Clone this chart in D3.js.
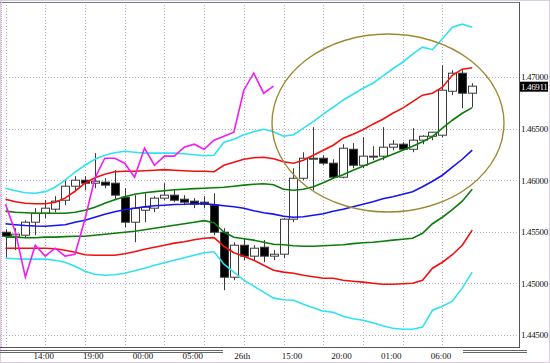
<!DOCTYPE html>
<html lang="en">
<head>
    <meta charset="UTF-8">
    <script src="https://d3js.org/d3.v7.min.js"></script>
    <style>
        body { margin: 0; background: #ffffff; overflow: hidden; }
        svg { display: block; }
        .tick text { font-family: 'Liberation Serif', 'DejaVu Serif', serif; font-size: 9px; fill: #111; }
        .yaxis .tick text { letter-spacing: -0.35px; }
    </style>
</head>
<body>
    <svg id="chart" width="550" height="363"></svg>

    <script>
        // hourly candles, EUR-ish quote
        const opens  = [1.45496,1.45457,1.45467,1.45593,1.45680,1.45719,1.45806,1.45942,1.46000,1.45971,
                        1.45981,1.45971,1.45835,1.45593,1.45709,1.45729,1.45826,1.45855,1.45816,1.45797,
                        1.45787,1.45758,1.45496,1.45060,1.45370,1.45264,1.45351,1.45264,1.45283,1.45622,
                        1.46019,1.46203,1.46213,1.46165,1.46029,1.46300,1.46145,1.46233,1.46233,1.46320,
                        1.46349,1.46300,1.46388,1.46426,1.46436,1.46862,1.47037,1.46843];
        const highs  = [1.45525,1.45535,1.45612,1.45729,1.45806,1.45845,1.46000,1.46039,1.46039,1.46262,
                        1.46019,1.46097,1.45922,1.45855,1.45874,1.45845,1.45971,1.45903,1.45855,1.45826,
                        1.45845,1.45874,1.45535,1.45399,1.45438,1.45370,1.45419,1.45322,1.45632,1.46116,
                        1.46271,1.46514,1.46242,1.46203,1.46349,1.46359,1.46417,1.46329,1.46514,1.46388,
                        1.46368,1.46504,1.46436,1.46465,1.47114,1.47066,1.47066,1.46940];
        const lows   = [1.45254,1.45322,1.45438,1.45467,1.45632,1.45690,1.45758,1.45903,1.45903,1.45922,
                        1.45922,1.45806,1.45545,1.45399,1.45593,1.45690,1.45806,1.45787,1.45758,1.45729,
                        1.45729,1.45467,1.44934,1.45031,1.45225,1.45225,1.45205,1.45225,1.45244,1.45593,
                        1.46000,1.45903,1.46145,1.46019,1.46019,1.46116,1.46116,1.46194,1.46194,1.46291,
                        1.46291,1.46271,1.46349,1.46388,1.46417,1.46824,1.46698,1.46707];
        const closes = [1.45457,1.45477,1.45593,1.45680,1.45729,1.45797,1.45942,1.46000,1.45971,1.45990,
                        1.45952,1.45855,1.45593,1.45729,1.45738,1.45826,1.45855,1.45806,1.45787,1.45767,
                        1.45767,1.45496,1.45060,1.45370,1.45264,1.45341,1.45264,1.45283,1.45622,1.46019,
                        1.46213,1.46213,1.46165,1.46029,1.46310,1.46145,1.46233,1.46233,1.46320,1.46349,
                        1.46300,1.46388,1.46426,1.46465,1.46872,1.47037,1.46843,1.46911];

        // bollinger bands (middle, +-1, +-2, +-3 sigma)
        const bandMid = [1.45578,1.45569,1.45561,1.45556,1.45554,1.45561,1.45569,1.45593,1.45612,1.45641,
                         1.45671,1.45695,1.45714,1.45729,1.45743,1.45753,1.45758,1.45765,1.45767,1.45772,
                         1.45772,1.45763,1.45753,1.45743,1.45729,1.45704,1.45685,1.45671,1.45651,1.45641,
                         1.45646,1.45661,1.45675,1.45700,1.45719,1.45743,1.45767,1.45792,1.45821,1.45840,
                         1.45864,1.45889,1.45937,1.45990,1.46048,1.46126,1.46203,1.46291];
        const bandUp1 = [1.45700,1.45690,1.45685,1.45680,1.45680,1.45680,1.45680,1.45690,1.45709,1.45738,
                         1.45777,1.45811,1.45840,1.45864,1.45879,1.45889,1.45898,1.45908,1.45913,1.45918,
                         1.45922,1.45927,1.45932,1.45942,1.45952,1.45961,1.45966,1.45956,1.45913,1.45903,
                         1.45913,1.45937,1.45976,1.46019,1.46053,1.46097,1.46136,1.46174,1.46213,1.46252,
                         1.46291,1.46329,1.46373,1.46422,1.46504,1.46581,1.46649,1.46703];
        const bandDn1 = [1.45448,1.45448,1.45443,1.45443,1.45448,1.45448,1.45453,1.45457,1.45457,1.45467,
                         1.45477,1.45486,1.45496,1.45506,1.45520,1.45535,1.45549,1.45564,1.45578,1.45593,
                         1.45608,1.45588,1.45496,1.45448,1.45433,1.45419,1.45399,1.45380,1.45375,1.45365,
                         1.45360,1.45360,1.45365,1.45370,1.45375,1.45385,1.45394,1.45399,1.45409,1.45419,
                         1.45428,1.45438,1.45486,1.45578,1.45641,1.45714,1.45797,1.45913];
        const bandUp2 = [1.45816,1.45792,1.45777,1.45772,1.45772,1.45787,1.45826,1.45893,1.45971,1.46024,
                         1.46058,1.46082,1.46087,1.46087,1.46092,1.46097,1.46102,1.46097,1.46092,1.46087,
                         1.46087,1.46082,1.46145,1.46174,1.46203,1.46218,1.46223,1.46208,1.46179,1.46165,
                         1.46194,1.46242,1.46291,1.46339,1.46407,1.46446,1.46489,1.46543,1.46591,1.46649,
                         1.46698,1.46761,1.46824,1.46843,1.46901,1.47017,1.47076,1.47090];
        const bandDn2 = [1.45341,1.45341,1.45341,1.45341,1.45341,1.45336,1.45322,1.45302,1.45278,1.45273,
                         1.45273,1.45273,1.45288,1.45307,1.45331,1.45351,1.45370,1.45390,1.45404,1.45423,
                         1.45438,1.45443,1.45360,1.45297,1.45264,1.45225,1.45176,1.45128,1.45109,1.45099,
                         1.45079,1.45065,1.45050,1.45050,1.45031,1.45021,1.45012,1.45002,1.44992,1.44992,
                         1.44997,1.45002,1.45031,1.45147,1.45205,1.45278,1.45370,1.45516];
        const bandUp3 = [1.45922,1.45898,1.45879,1.45874,1.45889,1.45932,1.46000,1.46078,1.46145,1.46203,
                         1.46242,1.46266,1.46281,1.46271,1.46262,1.46262,1.46262,1.46262,1.46257,1.46247,
                         1.46237,1.46242,1.46368,1.46397,1.46441,1.46470,1.46494,1.46470,1.46426,1.46441,
                         1.46504,1.46567,1.46640,1.46707,1.46775,1.46833,1.46891,1.46940,1.47008,1.47080,
                         1.47143,1.47221,1.47289,1.47265,1.47371,1.47483,1.47512,1.47483];
        const bandDn3 = [1.45244,1.45239,1.45235,1.45235,1.45235,1.45225,1.45205,1.45167,1.45118,1.45089,
                         1.45079,1.45084,1.45099,1.45123,1.45147,1.45176,1.45201,1.45225,1.45249,1.45273,
                         1.45297,1.45307,1.45186,1.45109,1.45031,1.44973,1.44915,1.44857,1.44842,1.44837,
                         1.44798,1.44765,1.44731,1.44721,1.44682,1.44658,1.44643,1.44619,1.44590,1.44566,
                         1.44556,1.44556,1.44576,1.44740,1.44779,1.44828,1.44954,1.45109];

        // lagging span (magenta), starts at the first bar
        const lagSpan = [1.45767,1.45496,1.45060,1.45370,1.45264,1.45341,1.45264,1.45283,1.45622,1.46019,
                         1.46213,1.46213,1.46165,1.46029,1.46310,1.46145,1.46233,1.46233,1.46320,1.46349,
                         1.46300,1.46388,1.46426,1.46465,1.46872,1.47037,1.46843,1.46911];

        const priceTicks = [1.445, 1.450, 1.455, 1.460, 1.465, 1.470];
        const timeTickBars = [4, 9, 14, 19, 24, 29, 34, 39, 44];
        const timeLabels = ["14:00", "19:00", "00:00", "05:00", "26th", "15:00", "20:00", "01:00", "06:00"];
        const gridBars = [0, 4, 8, 12, 16, 20, 24, 28, 32, 36, 40, 44];
        const lastPrice = 1.46911;

        const svg = d3.select("#chart");
        const plotRight = 519, plotTop = 2, plotBottom = 347;

        const x = d3.scaleLinear().domain([0, 47]).range([5.5, 472.2]);
        const y = d3.scaleLinear().domain([1.445, 1.470]).range([335, 77]);

        // outer frame
        svg.append("rect").attr("x", 0.5).attr("y", 0.5).attr("width", 549).attr("height", 362)
            .attr("fill", "#fff").attr("stroke", "#d9cde2");

        svg.append("defs").append("clipPath").attr("id", "plotclip")
            .append("rect").attr("x", 0).attr("y", plotTop).attr("width", plotRight).attr("height", plotBottom - plotTop);

        // grid
        const grid = svg.append("g").attr("stroke", "#b9aec4").attr("stroke-dasharray", "1,2");
        grid.selectAll(".hg").data(priceTicks).enter().append("line")
            .attr("x1", 0).attr("x2", plotRight)
            .attr("y1", d => Math.round(y(d)) + 0.5).attr("y2", d => Math.round(y(d)) + 0.5);
        grid.selectAll(".vg").data(gridBars).enter().append("line")
            .attr("x1", d => Math.round(x(d)) + 0.5).attr("x2", d => Math.round(x(d)) + 0.5)
            .attr("y1", plotTop).attr("y2", plotBottom);

        const plot = svg.append("g").attr("clip-path", "url(#plotclip)");

        // candles
        const bars = d3.range(opens.length);
        plot.selectAll(".wick").data(bars).enter().append("line")
            .attr("x1", i => Math.round(x(i)) + 0.5).attr("x2", i => Math.round(x(i)) + 0.5)
            .attr("y1", i => y(highs[i])).attr("y2", i => y(lows[i]))
            .attr("stroke", "#3a3a3a").attr("stroke-width", 1);
        plot.selectAll(".body").data(bars).enter().append("rect")
            .attr("x", i => Math.round(x(i)) - 4 + 0.5)
            .attr("y", i => y(Math.max(opens[i], closes[i])))
            .attr("width", 8)
            .attr("height", i => Math.max(1, Math.abs(y(opens[i]) - y(closes[i]))))
            .attr("fill", i => closes[i] < opens[i] ? "#000" : "#fff")
            .attr("stroke", "#3a3a3a").attr("stroke-width", 1);

        // bands
        const line = d3.line().x((d, i) => x(i)).y(d => y(d));
        const bands = [
            [bandDn3, "#2fe2f0"], [bandUp3, "#2fe2f0"],
            [bandDn2, "#f01010"], [bandUp2, "#f01010"],
            [bandDn1, "#0a7d0a"], [bandUp1, "#0a7d0a"],
            [bandMid, "#1414ee"], [lagSpan, "#f21cf2"]
        ];
        plot.selectAll(".band").data(bands).enter().append("path")
            .attr("d", d => line(d[0]))
            .attr("fill", "none").attr("stroke", d => d[1]).attr("stroke-width", 1.6);

        // highlight ellipse
        svg.append("ellipse").attr("cx", 388).attr("cy", 123).attr("rx", 116).attr("ry", 89)
            .attr("fill", "none").attr("stroke", "#9e8a34").attr("stroke-width", 1.4);

        // frame lines
        svg.append("line").attr("x1", 0).attr("x2", plotRight).attr("y1", plotTop + 0.5).attr("y2", plotTop + 0.5)
            .attr("stroke", "#7a7a8a");
        svg.append("line").attr("x1", plotRight + 0.5).attr("x2", plotRight + 0.5).attr("y1", plotTop).attr("y2", plotBottom)
            .attr("stroke", "#555");
        svg.append("line").attr("x1", 0).attr("x2", plotRight + 1).attr("y1", plotBottom + 0.5).attr("y2", plotBottom + 0.5)
            .attr("stroke", "#555");
        svg.append("line").attr("x1", 1.5).attr("x2", 1.5).attr("y1", 0).attr("y2", plotBottom)
            .attr("stroke", "#d0a8d8").attr("stroke-dasharray", "1,1");
        // scroll rails under the time axis
        [[0, 223], [463, 527]].forEach(([a, b]) => {
            [350.5, 352.5].forEach(yy => svg.append("line").attr("x1", a).attr("x2", b)
                .attr("y1", yy).attr("y2", yy).attr("stroke", "#666"));
        });

        // price axis
        const yAxis = svg.append("g").attr("class", "yaxis").attr("transform", `translate(${plotRight},0)`)
            .call(d3.axisRight(y).tickValues(priceTicks).tickFormat(d3.format(".5f")).tickSize(0).tickPadding(2));
        yAxis.select(".domain").remove();

        // last price box
        svg.append("rect").attr("x", 520).attr("y", y(lastPrice) - 4.5).attr("width", 28).attr("height", 10).attr("fill", "#000");
        svg.append("text").attr("x", 521).attr("y", y(lastPrice) + 3.5)
            .attr("font-family", "'Liberation Serif', serif").attr("font-size", 9).attr("fill", "#fff")
            .attr("letter-spacing", "-0.35px")
            .text(d3.format(".5f")(lastPrice));

        // time axis
        const xAxis = svg.append("g").attr("transform", `translate(0,${plotBottom})`)
            .call(d3.axisBottom(x).tickValues(timeTickBars).tickFormat((d, i) => timeLabels[i]).tickSize(0).tickPadding(6));
        xAxis.select(".domain").remove();
        xAxis.selectAll("text").attr("dx", -2);
    </script>
</body>
</html>
